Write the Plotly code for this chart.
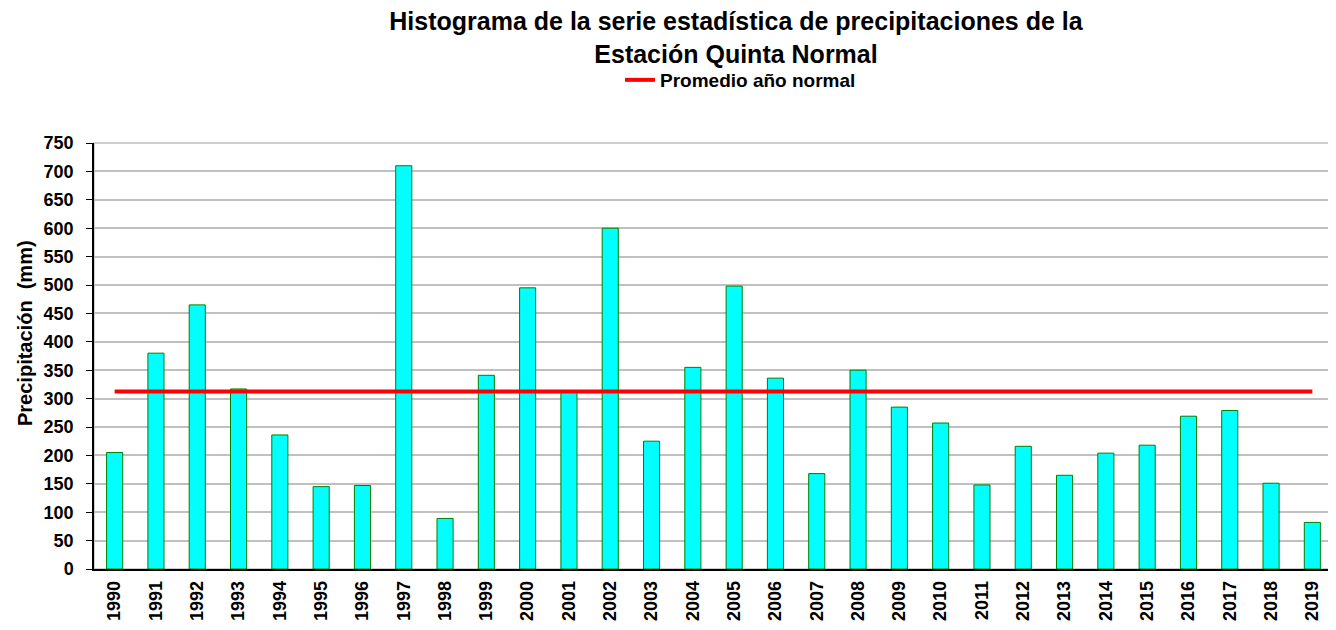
import plotly.graph_objects as go

years = [str(y) for y in range(1990, 2020)]
precip = [205, 380, 465, 317, 236, 145, 147, 710, 89, 341,
          495, 312, 600, 225, 355, 498, 336, 168, 350, 285,
          257, 148, 216, 165, 204, 218, 269, 279, 151, 82]
promedio = 312.7
promedio_series = [promedio] * len(years)

FONT = "Liberation Sans, Arial, sans-serif"

# page body has an 8px margin, so the figure is sized/positioned to compensate
W, H = 1328, 622
L, R, T, B = 86, 3, 135, 61
PW = W - L - R
PH = H - T - B

fig = go.Figure()
fig.add_trace(go.Bar(
    x=years, y=precip, showlegend=False,
    marker=dict(color="#00FFFF", line=dict(color="#008000", width=1)),
    width=0.39,
))
fig.add_trace(go.Scatter(
    x=years, y=promedio_series, mode="lines", name="<b>Promedio año normal</b>",
    line=dict(color="#FF0000", width=4),
))

fig.update_layout(
    width=W, height=H,
    paper_bgcolor="white", plot_bgcolor="white",
    margin=dict(l=L, r=R, t=T, b=B, autoexpand=False),
    font=dict(family=FONT, color="black"),
    title=dict(
        text="<b>Histograma de la serie estadística de precipitaciones de la<br>Estación Quinta Normal</b>",
        x=728/W, xref="container", xanchor="center", y=1-22/H, yref="container", yanchor="top",
        font=dict(size=25, family=FONT, color="black"),
    ),
    legend=dict(
        orientation="h", x=(612-L)/PW, xanchor="left", y=(H-B-72)/PH, yanchor="middle",
        xref="paper", font=dict(size=19, family=FONT, color="black"),
        bgcolor="rgba(0,0,0,0)",
    ),
    bargap=0.6,
    shapes=[dict(type="rect", xref="paper", yref="paper", x0=0, x1=1, y0=0, y1=1,
                 line=dict(color="#BDBDBD", width=1.5), layer="below")],
    annotations=[dict(
        text="<b>Precipitación  (mm)</b>", textangle=-90,
        xref="paper", yref="paper", x=(17-L)/PW, y=(H-B-325)/PH,
        xanchor="center", yanchor="middle", showarrow=False,
        font=dict(size=20, family=FONT, color="black"),
    )],
)
fig.update_xaxes(
    type="category", tickangle=-90, automargin=False,
    tickfont=dict(size=18, family=FONT, color="black"),
    tickprefix="<b>", ticksuffix="</b>",
    showline=True, linecolor="black", linewidth=1.5,
    ticks="", showgrid=False, ticklabelstandoff=3,
    range=[-0.5, 29.5],
)
fig.update_yaxes(
    range=[0, 750], dtick=50, automargin=False,
    tickfont=dict(size=18, family=FONT, color="black"),
    tickprefix="<b>", ticksuffix="</b>",
    showline=True, linecolor="black", linewidth=1.5,
    ticks="outside", ticklen=6, tickcolor="black", ticklabelstandoff=9,
    showgrid=True, gridcolor="#C0C0C0", gridwidth=1.5,
    zeroline=False,
)

fig.write_html("out.html")
